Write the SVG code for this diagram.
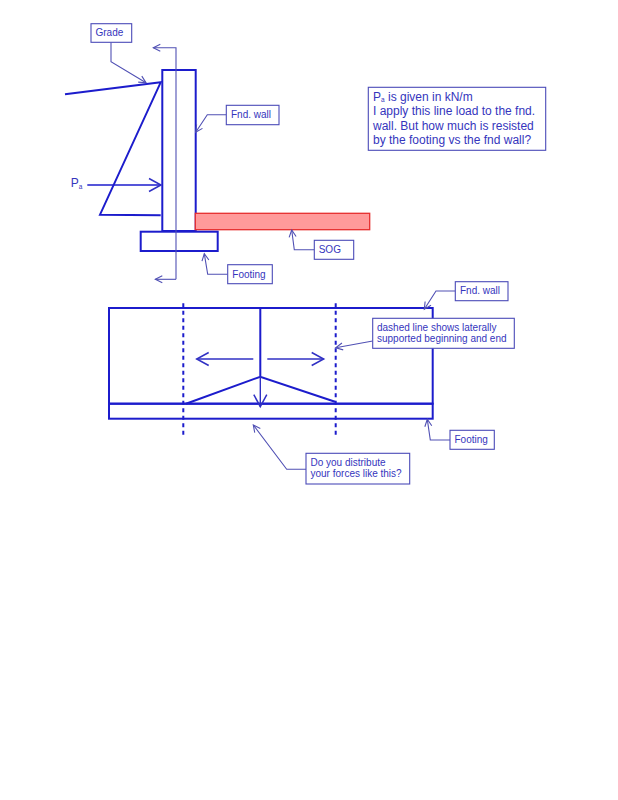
<svg xmlns="http://www.w3.org/2000/svg" width="618" height="800" viewBox="0 0 618 800">
<style>
text{font-family:"Liberation Sans",Arial,sans-serif;fill:#3535bd;font-size:10px}
.big{font-size:12px}
.sub{font-size:6.5px}
.box{fill:#fff;stroke:#4b4bb8;stroke-width:1.100}
.thick{fill:none;stroke:#1c1ccc;stroke-width:2}
.dash{fill:none;stroke:#1c1ccc;stroke-width:2;stroke-dasharray:4 3.500}
.lead{fill:none;stroke:#5050b4;stroke-width:1.100;marker-end:url(#open)}
.mid{fill:none;stroke:#3030c4;stroke-width:1.400;marker-end:url(#openb)}
</style>
<defs>
<marker id="open" markerUnits="userSpaceOnUse" markerWidth="12" markerHeight="12" refX="9" refY="5" orient="auto"><path d="M2 1.500 L9 5 L2 8.500" fill="none" stroke="#5050b4" stroke-width="1.100"/></marker>
<marker id="openb" markerUnits="userSpaceOnUse" markerWidth="16" markerHeight="18" refX="13" refY="8" orient="auto"><path d="M1 1.500 L13 8 L1 14.500" fill="none" stroke="#3030c4" stroke-width="1.500"/></marker>
</defs>
<g id="section-wall">
<rect class="thick" x="162.300" y="70" width="33.400" height="161"/>
<rect id="sog-slab" x="195.300" y="213.300" width="174.400" height="16.400" fill="#ff9a9a" stroke="#e62e2e" stroke-width="1.300"/>
<rect class="thick" x="140.700" y="231.700" width="77" height="19.300"/>
<path class="thick" d="M65 94.300 L160.700 82.300 L100 214.700 L160.700 215.300"/>
<text x="70.700" y="187" class="big">P<tspan class="sub" dy="1.500">a</tspan></text>
</g>
<g id="elevation">
<rect class="thick" x="109" y="308" width="323.700" height="95.700"/>
<rect class="thick" x="109" y="403.700" width="323.700" height="15"/>
<path class="thick" d="M260.300 308 V376.700 M186 403.700 L260.300 376.700 L335 401.700"/>
<path class="dash" d="M183.300 303.300 V436 M335.700 303.300 V436"/>
</g>
<g id="connectors">
<path class="lead" d="M176 279.300 V47.700 H153.300"/>
<path class="lead" d="M176 279.300 H155.300"/>
<path d="M87.300 185 H161" fill="none" stroke="#1c1ccc" stroke-width="1.700" marker-end="url(#openb)"/>
<path class="mid" d="M253.300 359 H196.700"/>
<path class="mid" d="M267.300 359 H323.700"/>
<path class="mid" d="M260.300 376.700 V406.700"/>
<path class="lead" d="M111 42.300 V61.700 L146 82.700"/>
<path class="lead" d="M226.300 114.700 H207.300 L195.700 132.300"/>
<path class="lead" d="M314.300 249.700 H294.300 L291.700 230"/>
<path class="lead" d="M227.700 274.300 H207.700 L204.300 253.700"/>
<path class="lead" d="M455.300 291 H436 L424.300 309.300"/>
<path class="lead" d="M372.700 341 L335.700 347.700"/>
<path class="lead" d="M450 440 H430.300 L427.300 419.300"/>
<path class="lead" d="M306 469.300 H286.700 L253.300 425"/>
</g>
<g id="grade"><rect class="box" x="91" y="23.700" width="40.700" height="18.600"/><text x="95.500" y="36">Grade</text></g>
<g id="fnd-wall-1"><rect class="box" x="226.300" y="105.300" width="52.700" height="19.400"/><text x="231" y="118">Fnd. wall</text></g>
<g id="sog"><rect class="box" x="314.300" y="240.300" width="39.400" height="19"/><text x="318.700" y="253">SOG</text></g>
<g id="footing-1"><rect class="box" x="227.700" y="264.700" width="44.600" height="19"/><text x="232.300" y="277.500">Footing</text></g>
<g id="note"><rect class="box" x="368.300" y="87.300" width="177.400" height="63"/>
<text x="373" y="100.700" class="big">P<tspan class="sub" dy="1.500">a</tspan><tspan dy="-1.500"> is given in kN/m</tspan></text>
<text x="373" y="115.300" class="big">I apply this line load to the fnd.</text>
<text x="373" y="129.700" class="big">wall. But how much is resisted</text>
<text x="373" y="143.700" class="big">by the footing vs the fnd wall?</text></g>
<g id="fnd-wall-2"><rect class="box" x="455.300" y="281.700" width="52.700" height="19"/><text x="460" y="293.700">Fnd. wall</text></g>
<g id="dashed-note"><rect class="box" x="372.700" y="318.300" width="141.600" height="30"/><text x="377" y="330.700">dashed line shows laterally</text><text x="377" y="342.300">supported beginning and end</text></g>
<g id="footing-2"><rect class="box" x="450" y="430.300" width="44.300" height="19"/><text x="454.500" y="443">Footing</text></g>
<g id="question"><rect class="box" x="306" y="453.300" width="103.700" height="30.700"/><text x="310.500" y="465.700">Do you distribute</text><text x="310.500" y="477.300">your forces like this?</text></g>
</svg>
